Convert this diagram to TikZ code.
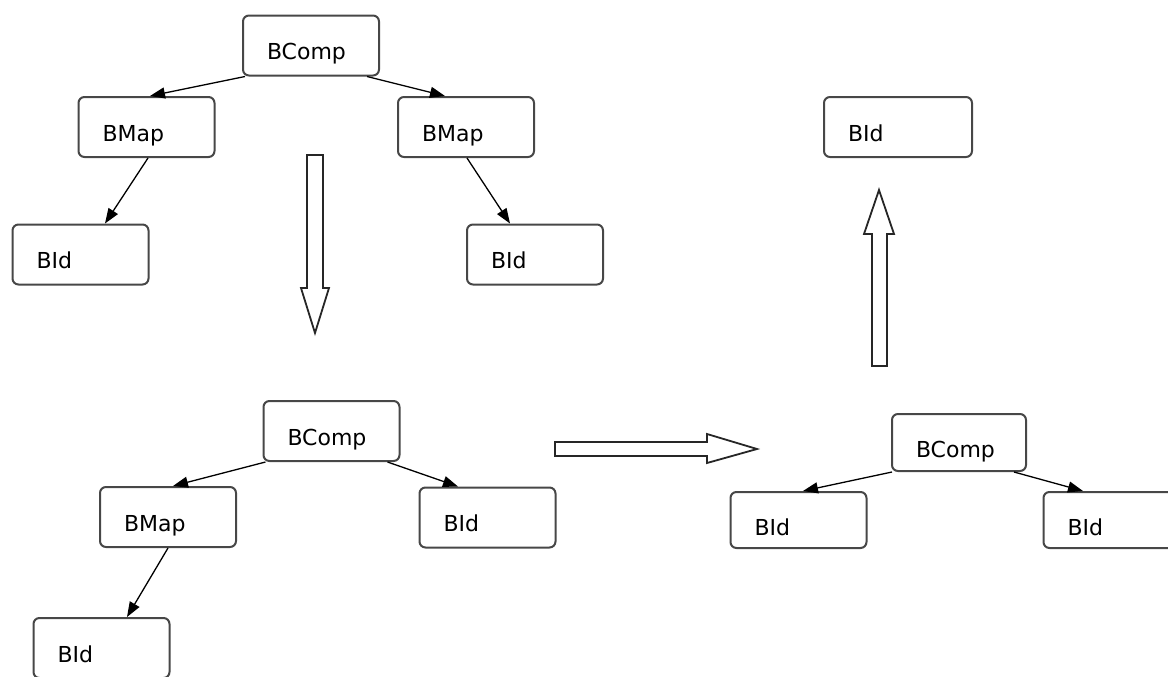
\documentclass[tikz,border=0pt]{standalone}
\usepackage{fontspec}
\setmainfont{DejaVu Sans}
\usetikzlibrary{arrows.meta}
\tikzset{x=0.5pt, y=-0.5pt, >={Triangle[length=7.5pt,width=5.5pt]},
	box/.style={draw=black!72, line width=1pt, rounded corners=3pt, align=left, text width=44pt, inner xsep=12pt, inner ysep=0pt, minimum height=30pt, text height=14pt, text depth=0pt, font=\fontsize{11}{13}\selectfont},
	link/.style={->, line width=0.65pt},
	bigarrow/.style={draw=black!85, line width=0.9pt, fill=white, line join=miter}}

\begin{document}
\begin{tikzpicture}
	\useasboundingbox (0,0) rectangle (1168,676);
	% first tree
	\node[box] (c0) at (311,45.5) {BComp};
	\node[box] (m1) at (146.5,127) {BMap};
	\node[box] (m2) at (466,127) {BMap};
	\node[box] (i1) at (80.5,254.5) {BId};
	\node[box] (i2) at (535,254.5) {BId};
	\path[link]
		([xshift=1.5pt]c0.south west) edge ([xshift=1.75pt]m1.north)
		([xshift=-6.5pt]c0.south east) edge ([xshift=-10.5pt]m2.north)
		([xshift=0.75pt]m1.south) edge ([xshift=12.25pt]i1.north)
		([xshift=0.5pt]m2.south) edge ([xshift=-12.5pt]i2.north)
		;
	\draw[bigarrow] (307,155) -- (323,155) -- (323,288) -- (329,288) -- (315,333) -- (301,288) -- (307,288) -- cycle;

	% second tree
	\node[box] (c1) at (331.5,431) {BComp};
	\node[box] (m3) at (168,517) {BMap};
	\node[box] (i3) at (487.5,517.5) {BId};
	\node[box] (i4) at (101.5,648) {BId};
	\path[link]
		([xshift=1.5pt]c1.south west) edge ([xshift=2.5pt]m3.north)
		([xshift=-6.5pt]c1.south east) edge ([xshift=-14.75pt]i3.north)
		(m3.south) edge ([xshift=12.75pt]i4.north)
		;
	\draw[bigarrow] (555,442) -- (707,442) -- (707,434) -- (757,449) -- (707,463) -- (707,456) -- (555,456) -- cycle;

	% third tree
	\node[box, text width=43pt, minimum height=28.5pt, text height=15pt] (c2) at (959,442.5) {BComp};
	\node[box, minimum height=28pt, text height=15pt] (i5) at (798.5,520) {BId};
	\node[box, minimum height=28pt, text height=15pt] (i6) at (1111.5,520) {BId};
	\path[link]
		([xshift=0.5pt]c2.south west) edge ([xshift=2.25pt]i5.north)
		([xshift=-6.5pt]c2.south east) edge ([xshift=-14.25pt]i6.north)
		;
	\draw[bigarrow] (872,366) -- (872,234) -- (864,234) -- (879,190) -- (894,234) -- (887,234) -- (887,366) -- cycle;

	% result
	\node[box, text width=50pt] (i7) at (898,127) {BId};
\end{tikzpicture}
\end{document}
